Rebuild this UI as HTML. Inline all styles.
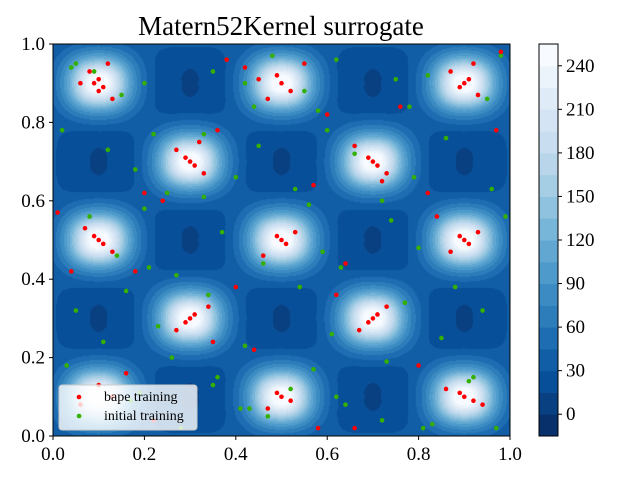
<!DOCTYPE html>
<html><head><meta charset="utf-8"><style>
body{margin:0;background:#fff;width:640px;height:480px;overflow:hidden;position:relative;font-family:"Liberation Serif",serif}
#cv{position:absolute;left:53px;top:44px}
#svg{position:absolute;left:0;top:0}
</style></head><body>
<canvas id="cv" width="457" height="392"></canvas>
<svg id="svg" width="640" height="480"></svg>
<script>
const peakX=[0.1,0.5,0.9,0.3,0.7,0.1,0.5,0.9,0.3,0.7,0.1,0.5,0.9];
const peakY=[0.9,0.9,0.9,0.7,0.7,0.5,0.5,0.5,0.3,0.3,0.1,0.1,0.1];
const darkX=[0.3,0.7,0.1,0.5,0.9,0.3,0.7,0.1,0.5,0.9,0.3,0.7];
const darkY=[0.9,0.9,0.7,0.7,0.7,0.5,0.5,0.3,0.3,0.3,0.1,0.1];
const levels=[-15,0,15,30,45,60,75,90,105,120,135,150,165,180,195,210,225,240,255];
const cbTicks=[0,30,60,90,120,150,180,210,240];
const xTicks=[0,0.2,0.4,0.6,0.8,1.0];
const yTicks=[0,0.2,0.4,0.6,0.8,1.0];
const redX=[0.09,0.1,0.11,0.1,0.08,0.06,0.13,0.12,0.5,0.49,0.52,0.47,0.55,0.45,0.9,0.91,0.89,0.93,0.87,0.92,0.3,0.29,0.31,0.33,0.27,0.32,0.7,0.69,0.71,0.73,0.66,0.72,0.1,0.09,0.11,0.13,0.07,0.5,0.49,0.51,0.53,0.46,0.9,0.89,0.91,0.93,0.87,0.3,0.31,0.29,0.27,0.34,0.7,0.71,0.69,0.67,0.73,0.1,0.13,0.06,0.5,0.49,0.52,0.47,0.9,0.89,0.92,0.86,0.94,0.2,0.4,0.6,0.8,0.01,0.18,0.24,0.36,0.44,0.57,0.64,0.76,0.84,0.98,0.22,0.58,0.38,0.62,0.04,0.82,0.97,0.16,0.42,0.35,0.66];
const redY=[0.9,0.91,0.89,0.88,0.93,0.9,0.86,0.95,0.9,0.92,0.88,0.86,0.95,0.91,0.9,0.91,0.89,0.87,0.93,0.95,0.7,0.71,0.69,0.67,0.73,0.75,0.7,0.71,0.69,0.67,0.74,0.65,0.5,0.51,0.49,0.47,0.53,0.5,0.51,0.49,0.52,0.46,0.5,0.51,0.49,0.52,0.47,0.3,0.31,0.29,0.27,0.33,0.3,0.31,0.29,0.27,0.33,0.13,0.1,0.08,0.1,0.11,0.09,0.07,0.1,0.11,0.09,0.12,0.08,0.62,0.38,0.82,0.18,0.57,0.42,0.6,0.78,0.22,0.64,0.44,0.84,0.56,0.98,0.04,0.02,0.96,0.36,0.42,0.62,0.78,0.16,0.94,0.24,0.02];
const grnX=[0.04,0.05,0.15,0.2,0.22,0.35,0.38,0.42,0.44,0.48,0.55,0.58,0.62,0.75,0.78,0.82,0.95,0.98,0.02,0.12,0.18,0.25,0.33,0.4,0.45,0.53,0.6,0.66,0.72,0.86,0.96,0.08,0.14,0.2,0.27,0.37,0.46,0.56,0.63,0.74,0.8,0.88,0.99,0.05,0.16,0.23,0.34,0.42,0.54,0.61,0.77,0.85,0.94,0.03,0.11,0.19,0.26,0.36,0.47,0.57,0.64,0.73,0.83,0.92,0.06,0.17,0.28,0.35,0.43,0.52,0.62,0.72,0.81,0.91,0.09,0.21,0.33,0.41,0.59,0.79,0.97];
const grnY=[0.94,0.95,0.87,0.9,0.77,0.93,0.96,0.9,0.84,0.97,0.88,0.83,0.96,0.91,0.84,0.92,0.86,0.97,0.78,0.73,0.68,0.62,0.77,0.66,0.74,0.63,0.78,0.72,0.6,0.76,0.63,0.56,0.46,0.58,0.41,0.52,0.44,0.59,0.43,0.55,0.48,0.38,0.56,0.32,0.37,0.28,0.36,0.23,0.38,0.26,0.34,0.25,0.32,0.18,0.24,0.11,0.2,0.15,0.05,0.17,0.08,0.19,0.03,0.15,0.05,0.09,0.02,0.13,0.07,0.12,0.1,0.04,0.02,0.14,0.93,0.43,0.61,0.07,0.47,0.66,0.02];

function blues(t){
  const s=[[8,48,107],[8,81,156],[33,113,181],[66,146,198],[107,174,214],[158,202,225],[198,219,239],[222,235,247],[247,251,255]];
  const u=Math.max(0,Math.min(1,t))*8,i=Math.min(7,Math.floor(u)),f=u-i;
  return s[i].map((c,k)=>Math.round(c+(s[i+1][k]-c)*f));
}
function fval(x,y){
  let v=31;
  for(let i=0;i<peakX.length;i++){
    const dx=Math.abs(x-peakX[i]),dy=Math.abs(y-peakY[i]);
    const r3=Math.pow(Math.pow(dx,3)+Math.pow(dy,3),1/3);
    const rr=Math.hypot(dx,dy)*0.6+r3*0.4;
    v+=224*Math.exp(-Math.pow(rr/0.062,2))+12*Math.exp(-Math.pow(r3/0.1,6));
  }
  for(let i=0;i<darkX.length;i++){
    const dx=Math.abs(x-darkX[i]),dy=Math.abs(y-darkY[i]);
    const r=Math.pow(Math.pow(dx,4)+Math.pow(dy,4),1/4);
    v-=12*Math.exp(-Math.pow(r/0.08,6))+8*Math.exp(-Math.pow(Math.hypot(dx+0.01,dy-0.01)/0.035,2));
  }
  return v;
}
const cv=document.getElementById('cv'),ctx=cv.getContext('2d');
const W=457,H=392,img=ctx.createImageData(W,H);
const nb=levels.length-1;
for(let py=0;py<H;py++)for(let px=0;px<W;px++){
  const v=fval((px+0.5)/W,1-(py+0.5)/H);
  let b=Math.floor((v-levels[0])/15);b=Math.max(0,Math.min(nb-1,b));
  const c=blues(b/(nb-1));const o=(py*W+px)*4;
  img.data[o]=c[0];img.data[o+1]=c[1];img.data[o+2]=c[2];img.data[o+3]=255;
}
ctx.putImageData(img,0,0);

const NS='http://www.w3.org/2000/svg',svg=document.getElementById('svg');
function el(t,a,p){const e=document.createElementNS(NS,t);for(const k in a)e.setAttribute(k,a[k]);(p||svg).appendChild(e);return e;}
const L=53,T=44,R=510,B=436;
const sx=x=>L+x*(R-L),sy=y=>B-y*(B-T);
for(let i=0;i<grnX.length;i++){
  const c=el('circle',{cx:sx(grnX[i]),cy:sy(grnY[i]),r:2.3,fill:'#33b000'});
  
  
}
for(let i=0;i<redX.length;i++){
  const c=el('circle',{cx:sx(redX[i]),cy:sy(redY[i]),r:2.3,fill:'#ff0000'});
  
  
}
const frame=el('rect',{x:L,y:T,width:R-L,height:B-T,fill:'none',stroke:'#000','stroke-width':1});


xTicks.forEach(t=>{
  el('line',{x1:sx(t),x2:sx(t),y1:B,y2:B+4,stroke:'#000'});
  const tx=el('text',{x:sx(t),y:B+24,'text-anchor':'middle','font-size':19,'font-family':'Liberation Serif, serif'});
  tx.textContent=t.toFixed(1);
  
  
});
yTicks.forEach(t=>{
  el('line',{x1:L-4,x2:L,y1:sy(t),y2:sy(t),stroke:'#000'});
  const tx=el('text',{x:L-8,y:sy(t)+6,'text-anchor':'end','font-size':19,'font-family':'Liberation Serif, serif'});
  tx.textContent=t.toFixed(1);
  
  
});
const title=el('text',{x:281,y:35,'text-anchor':'middle','font-size':27,'font-family':'Liberation Serif, serif'});
title.textContent='Matern52Kernel surrogate';


const CL=539,CR=558,cy=v=>B-(v-levels[0])/(levels[nb]-levels[0])*(B-T);
for(let i=0;i<nb;i++){
  const c=blues(i/(nb-1));
  const r=el('rect',{x:CL,y:cy(levels[i+1]),width:CR-CL,height:cy(levels[i])-cy(levels[i+1])+0.5,fill:`rgb(${c})`});
  
  
}
const cbf=el('rect',{x:CL,y:T,width:CR-CL,height:B-T,fill:'none',stroke:'#000'});


cbTicks.forEach(t=>{
  el('line',{x1:CR,x2:CR+4,y1:cy(t),y2:cy(t),stroke:'#000'});
  const tx=el('text',{x:CR+8,y:cy(t)+6,'font-size':19,'font-family':'Liberation Serif, serif'});
  tx.textContent=t;
  
  
});
const lg=el('g',{});


el('rect',{x:59,y:385,width:138,height:45,rx:3,fill:'rgba(255,255,255,0.8)',stroke:'#ccc'},lg);
el('circle',{cx:79,cy:397,r:2.3,fill:'#ff0000'},lg);
el('circle',{cx:79,cy:416,r:2.3,fill:'#33b000'},lg);
const t1=el('text',{x:104,y:401,'font-size':14,'font-family':'Liberation Serif, serif'},lg);t1.textContent='bape training';


const t2=el('text',{x:104,y:420,'font-size':14,'font-family':'Liberation Serif, serif'},lg);t2.textContent='initial training';


</script>
</body></html>
